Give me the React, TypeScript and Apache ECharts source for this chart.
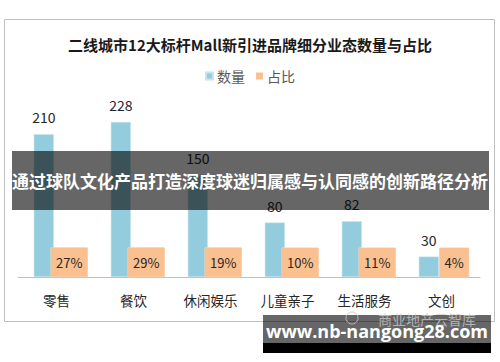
import React, { useEffect, useRef } from "react";
import * as echarts from "echarts";

const categories = ["零售", "餐饮", "休闲娱乐", "儿童亲子", "生活服务", "文创"];
const counts = [210, 228, 150, 80, 82, 30];
const shares = [0.27, 0.29, 0.19, 0.1, 0.11, 0.04];
const seriesNames = ["数量", "占比"];
const titleText = "二线城市12大标杆Mall新引进品牌细分业态数量与占比";
const bannerText = "通过球队文化产品打造深度球迷归属感与认同感的创新路径分析";
const siteText = "www.nb-nangong28.com";
const markText = "商业地产云智库";

const FONT = "'Noto Sans CJK SC', 'Noto Sans', sans-serif";

export default function App() {
  const ref = useRef<HTMLDivElement>(null);
  useEffect(() => {
    if (!ref.current) return;
    const chart = echarts.init(ref.current, null, { renderer: "svg" });
    chart.setOption({
      animation: false,
      backgroundColor: "#ffffff",
      textStyle: { fontFamily: FONT },
      title: {
        text: titleText,
        left: "center",
        top: 32,
        textStyle: { fontSize: 15, fontWeight: "bold", color: "#1a1a1a", fontFamily: FONT },
      },
      legend: {
        data: seriesNames,
        top: 64,
        left: "center",
        icon: "rect",
        itemWidth: 7,
        itemHeight: 7,
        itemGap: 11,
        textStyle: { fontSize: 14, color: "#595959", fontFamily: FONT, padding: [0, 0, 0, -1] },
      },
      grid: { left: 18, right: 20, top: 107, bottom: 85 },
      xAxis: {
        type: "category",
        data: categories,
        axisLine: { lineStyle: { color: "#bfbfbf", width: 1 } },
        axisTick: { show: false },
        axisLabel: { fontSize: 13.5, color: "#262626", margin: 16, fontFamily: FONT },
      },
      yAxis: {
        type: "value",
        min: 0,
        max: 250,
        show: false,
        splitLine: { show: false },
      },
      series: [
        {
          name: seriesNames[0],
          type: "bar",
          data: counts,
          barWidth: 20,
          barGap: "27%",
          itemStyle: { color: "#93CDDD", borderColor: "#c8e4ee", borderWidth: 0.5 },
          label: {
            show: true,
            position: "top",
            distance: 10,
            fontSize: 14,
            color: "#262626",
            fontFamily: FONT,
          },
        },
        {
          name: seriesNames[1],
          type: "bar",
          data: shares,
          barWidth: 20,
          itemStyle: { color: "#FAC090" },
          label: {
            show: true,
            position: "top",
            distance: 0,
            fontSize: 13,
            color: "#262626",
            fontFamily: FONT,
            backgroundColor: "#FAC090",
            borderColor: "#fcd5b4",
            borderWidth: 0.5,
            padding: [8, 5, 8, 5],
            formatter: (p: any) => Math.round(p.value * 100) + "%",
          },
        },
      ],
      graphic: [
        {
          type: "rect",
          shape: { x: 4.5, y: 19.5, width: 490, height: 302 },
          style: { fill: "none", stroke: "#bfbfbf", lineWidth: 1 },
          z: 1,
        },
        {
          type: "rect",
          shape: { x: 12, y: 151, width: 477, height: 59 },
          style: { fill: "rgba(0,0,0,0.6)" },
          z: 100,
        },
        {
          type: "text",
          x: 250,
          y: 180,
          style: {
            text: bannerText,
            fill: "#ffffff",
            font: `bold 17px ${FONT}`,
            align: "center",
            verticalAlign: "middle",
          },
          z: 101,
        },
        {
          type: "rect",
          shape: { x: 263, y: 315, width: 228, height: 28 },
          style: { fill: "rgba(0,0,0,0.6)" },
          z: 100,
        },
        {
          type: "rect",
          shape: { x: 263, y: 343, width: 228, height: 10 },
          style: { fill: "#000000" },
          z: 100,
        },
        {
          type: "circle",
          shape: { cx: 352, cy: 318, r: 6 },
          style: { fill: "none", stroke: "rgba(200,200,200,0.8)", lineWidth: 1 },
          z: 101,
        },
        {
          type: "text",
          x: 427,
          y: 319,
          style: {
            text: markText,
            fill: "rgba(205,205,205,0.75)",
            font: `14px ${FONT}`,
            align: "center",
            verticalAlign: "middle",
          },
          z: 101,
        },
        {
          type: "text",
          x: 377,
          y: 331,
          style: {
            text: siteText,
            fill: "#ffffff",
            font: `bold 18px 'Open Sans', 'Noto Sans', sans-serif`,
            align: "center",
            verticalAlign: "middle",
          },
          z: 102,
        },
      ],
    });
    return () => chart.dispose();
  }, []);
  return <div ref={ref} style={{ width: 500, height: 362, position: "absolute", left: 0, top: 0 }} />;
}
